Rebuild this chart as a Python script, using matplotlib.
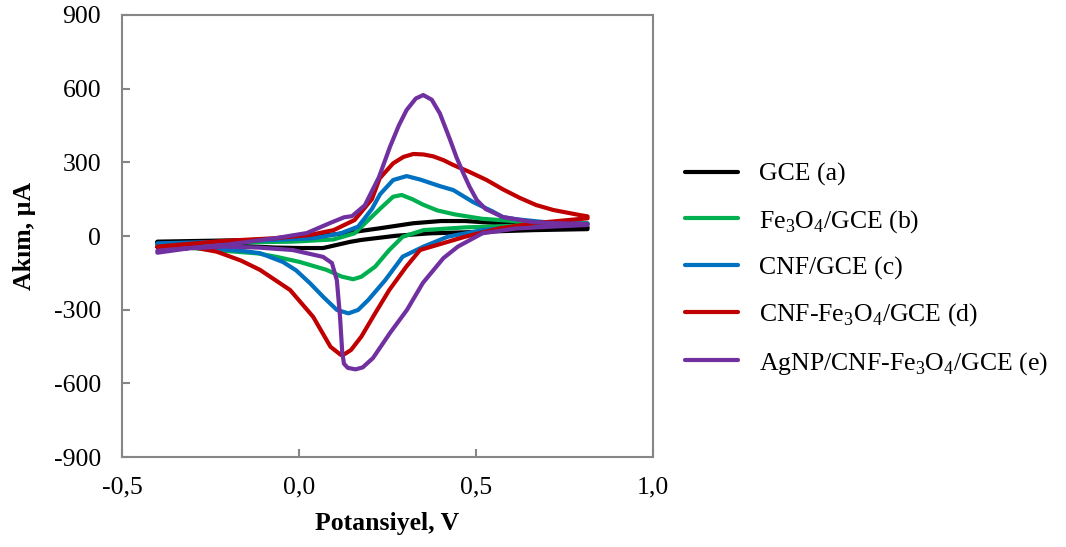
import numpy as np
import matplotlib
matplotlib.use("Agg")
import matplotlib.pyplot as plt

plt.rcParams["font.family"] = ["Liberation Serif", "DejaVu Serif"]
plt.rcParams["mathtext.fontset"] = "custom"
plt.rcParams["mathtext.rm"] = "Liberation Serif"

# ── Cyclic voltammograms: anodic sweep (-0.4 → 0.815 V) then cathodic sweep back ──
gce_fwd_v = [-0.400, -0.116, 0.041, 0.127, 0.226, 0.323, 0.401, 0.469, 0.566, 0.664, 0.815]
gce_fwd_i = [-23, -16, -3, 11, 31, 52, 61, 61, 52, 42, 36]
gce_rev_v = [0.815, 0.664, 0.469, 0.372, 0.274, 0.176, 0.144, 0.068, 0.003, -0.067, -0.213,
             -0.400]
gce_rev_i = [28, 24, 15, 11, 1, -16, -24, -49, -49, -47, -37, -27]

fe_fwd_v = [-0.400, -0.213, -0.018, 0.098, 0.157, 0.196, 0.235, 0.266, 0.290, 0.320, 0.350,
            0.391, 0.440, 0.518, 0.615, 0.712, 0.815]
fe_fwd_i = [-33, -27, -23, -14, 11, 65, 119, 160, 167, 150, 128, 104, 88, 70, 60, 54, 52]
fe_rev_v = [0.815, 0.712, 0.615, 0.469, 0.352, 0.293, 0.255, 0.215, 0.176, 0.153, 0.120,
            0.078, 0.003, -0.063, -0.116, -0.213, -0.400]
fe_rev_i = [49, 45, 42, 35, 24, -3, -57, -125, -166, -176, -165, -138, -106, -85, -71, -60, -37]

cnf_fwd_v = [-0.400, -0.213, -0.067, 0.041, 0.118, 0.167, 0.206, 0.229, 0.266, 0.304, 0.342,
             0.398, 0.436, 0.492, 0.547, 0.576, 0.615, 0.718, 0.815]
cnf_fwd_i = [-30, -23, -16, -9, 11, 38, 110, 170, 228, 244, 230, 203, 187, 138, 100, 77, 68, 53,
             50]
cnf_rev_v = [0.815, 0.712, 0.615, 0.518, 0.420, 0.352, 0.293, 0.244, 0.196, 0.167, 0.140,
             0.107, 0.070, 0.031, -0.008, -0.045, -0.110, -0.164, -0.262, -0.400]
cnf_rev_i = [49, 45, 38, 24, -3, -43, -84, -179, -260, -301, -315, -301, -250, -192, -140, -106,
             -70, -60, -50, -34]

cnffe_fwd_v = [-0.400, -0.213, -0.067, 0.030, 0.098, 0.157, 0.206, 0.228, 0.266, 0.295, 0.323,
               0.352, 0.380, 0.408, 0.436, 0.480, 0.530, 0.576, 0.624, 0.670, 0.718, 0.794,
               0.815]
cnffe_fwd_i = [-43, -20, -9, 4, 24, 65, 150, 235, 296, 322, 334, 332, 324, 309, 289, 262, 228,
               190, 155, 126, 106, 85, 80]
cnffe_rev_v = [0.815, 0.761, 0.664, 0.566, 0.469, 0.342, 0.303, 0.255, 0.215, 0.176, 0.147,
               0.130, 0.118, 0.089, 0.040, -0.025, -0.110, -0.164, -0.232, -0.310, -0.400]
cnffe_rev_i = [72, 65, 52, 31, -3, -57, -125, -220, -315, -410, -464, -480, -484, -451, -329,
               -220, -138, -100, -64, -43, -46]

ag_fwd_v = [-0.400, -0.213, -0.067, 0.022, 0.088, 0.127, 0.150, 0.186, 0.226, 0.257, 0.282,
            0.304, 0.330, 0.351, 0.375, 0.398, 0.427, 0.445, 0.464, 0.482, 0.502, 0.527, 0.576,
            0.664, 0.723, 0.815]
ag_fwd_i = [-60, -37, -9, 12, 53, 76, 81, 125, 240, 363, 450, 513, 560, 574, 555, 499, 391,
            320, 256, 200, 147, 110, 77, 56, 52, 49]
ag_rev_v = [0.815, 0.712, 0.615, 0.518, 0.449, 0.408, 0.350, 0.305, 0.257, 0.209, 0.180, 0.160,
            0.138, 0.127, 0.122, 0.116, 0.107, 0.093, 0.068, -0.018, -0.116, -0.213, -0.310,
            -0.400]
ag_rev_i = [45, 38, 31, 11, -43, -90, -191, -301, -395, -497, -535, -543, -537, -520, -470,
            -330, -180, -110, -85, -57, -47, -43, -50, -68]

labels = ["GCE (a)",
          r"Fe$_{\mathregular{3}}$O$_{\mathregular{4}}$/GCE (b)",
          "CNF/GCE (c)",
          r"CNF-Fe$_{\mathregular{3}}$O$_{\mathregular{4}}$/GCE (d)",
          r"AgNP/CNF-Fe$_{\mathregular{3}}$O$_{\mathregular{4}}$/GCE (e)"]
colors = ["#000000", "#00B050", "#0070C0", "#C00000", "#7030A0"]

curves = [
    (gce_fwd_v + gce_rev_v, gce_fwd_i + gce_rev_i),
    (fe_fwd_v + fe_rev_v, fe_fwd_i + fe_rev_i),
    (cnf_fwd_v + cnf_rev_v, cnf_fwd_i + cnf_rev_i),
    (cnffe_fwd_v + cnffe_rev_v, cnffe_fwd_i + cnffe_rev_i),
    (ag_fwd_v + ag_rev_v, ag_fwd_i + ag_rev_i),
]

fig = plt.figure(figsize=(10.66, 5.47), dpi=100)
ax = fig.add_axes([0.1144, 0.1645, 0.4982, 0.8081])

for (v, i), lab, col in zip(curves, labels, colors):
    ax.plot(v, i, color=col, lw=3, label=lab, solid_joinstyle="round", solid_capstyle="round")

ax.set_xlim(-0.5, 1.0)
ax.set_ylim(-900, 900)
ax.set_xticks([-0.5, 0.0, 0.5, 1.0])
ax.set_yticks(np.arange(-900, 901, 300))
ax.set_xticklabels(["-0,5", "0,0", "0,5", "1,0"])
ax.set_yticklabels([str(t) for t in range(-900, 901, 300)])

for s in ax.spines.values():
    s.set_color("#868686")
    s.set_linewidth(1.5)
ax.tick_params(direction="in", length=6, width=1.5, color="#868686",
               labelsize=18.5, pad=14)
ax.tick_params(axis="y", pad=15)

ax.set_xlabel("Potansiyel, V", fontsize=18.5, fontweight="bold", labelpad=10)
ax.set_ylabel("Akım, µA", fontsize=18.5, fontweight="bold", labelpad=13)

ax.legend(loc="center left", bbox_to_anchor=(0.643, 0.507), bbox_transform=fig.transFigure,
          frameon=False, fontsize=18.5, handlelength=2.05, handletextpad=0.8,
          labelspacing=0.84, borderpad=0, borderaxespad=0)

fig.savefig("out.png", dpi=100)
